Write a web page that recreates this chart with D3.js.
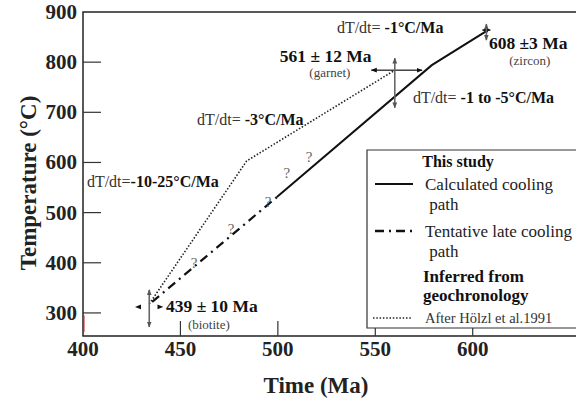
<!DOCTYPE html>
<html>
<head>
<meta charset="utf-8">
<script src="https://cdn.jsdelivr.net/npm/d3@7"></script>
<style>
  body { margin: 0; background: #fff; }
  text { font-family: "Liberation Serif", "DejaVu Serif", serif; }
</style>
</head>
<body>
<div id="chart"></div>
<script>
// cooling paths, [time Ma, temperature C]
var calcPath  = [[499.5, 531], [579, 794], [607, 862]];
var tentPath  = [[435.5, 322], [499.5, 531]];
var holzlPath = [[434, 318], [484, 603], [560, 784]];

// age error crosses: centre, time range, temperature range
var ageTimes   = [434, 560, 607];
var ageTemps   = [312, 784, 864];
var ageTimeLo  = [427, 548, 605];
var ageTimeHi  = [441, 574, 609];
var ageTempLo  = [272, 709, 844];
var ageTempHi  = [346, 808, 876];

var ageLabels   = ["439 \u00b1 10 Ma", "561 \u00b1 12 Ma", "608 \u00b13 Ma"];
var ageMinerals = ["(biotite)", "(garnet)", "(zircon)"];

var rateLabels = ["-10-25\u00b0C/Ma", "-3\u00b0C/Ma", "-1 to -5\u00b0C/Ma", "-1\u00b0C/Ma"];

var questionMarks = [[457, 400], [476, 468], [495, 521], [504.6, 579], [516, 611]];

var xTicks = [400, 450, 500, 550, 600];
var yTicks = [300, 400, 500, 600, 700, 800, 900];

function init(){
    var w = 576;
    var h = 400;
    var serif = '"Liberation Serif", "DejaVu Serif", serif';

    var xScale = d3.scaleLinear()
                    .domain([400, 653])
                    .range([83, 576]);

    var yScale = d3.scaleLinear()
                    .domain([254, 900])
                    .range([336, 12]);

    var svg = d3.select('#chart')
                .append('svg')
                .attr('width', w)
                .attr('height', h)
                .attr('font-family', serif);

    // arrow heads for the error crosses
    var defs = svg.append('defs');
    [['arrBlack', '#111'], ['arrGrey', '#555']].forEach(function(m){
        defs.append('marker')
            .attr('id', m[0])
            .attr('viewBox', '0 0 10 10')
            .attr('refX', 9)
            .attr('refY', 5)
            .attr('markerUnits', 'userSpaceOnUse')
            .attr('markerWidth', 6)
            .attr('markerHeight', 6)
            .attr('orient', 'auto-start-reverse')
            .append('path')
            .attr('d', 'M0,1 L10,5 L0,9 Z')
            .attr('fill', m[1]);
    });

    // axes frame
    var x0 = xScale.range()[0], x1 = xScale.range()[1];
    var y0 = yScale.range()[0], y1 = yScale.range()[1];

    svg.append('path')
        .attr('d', 'M' + x1 + ',' + y1 + 'H' + x0 + 'V' + y0 + 'H' + x1)
        .attr('fill', 'none')
        .attr('stroke', '#222')
        .attr('stroke-width', 1.5);

    // small red mark on the y axis
    svg.append('line')
        .attr('x1', x0 + 1).attr('x2', x0 + 1)
        .attr('y1', yScale(295)).attr('y2', yScale(262))
        .attr('stroke', '#d02020')
        .attr('stroke-width', 1);

    // y ticks point inwards
    svg.selectAll('.ytick')
        .data(yTicks.filter(function(d){ return d < 900; }))
        .enter()
        .append('line')
        .attr('x1', x0)
        .attr('x2', x0 + 18)
        .attr('y1', function(d){ return yScale(d); })
        .attr('y2', function(d){ return yScale(d); })
        .attr('stroke', '#333')
        .attr('stroke-width', 1.2);

    svg.selectAll('.ylab')
        .data(yTicks)
        .enter()
        .append('text')
        .attr('x', x0 - 6)
        .attr('y', function(d){ return yScale(d) + 7; })
        .attr('text-anchor', 'end')
        .attr('font-weight', 'bold')
        .attr('font-size', '21px')
        .attr('fill', '#222')
        .text(function(d){ return d; });

    // x ticks point upwards
    svg.selectAll('.xtick')
        .data(xTicks.filter(function(d){ return d > 400; }))
        .enter()
        .append('line')
        .attr('x1', function(d){ return xScale(d); })
        .attr('x2', function(d){ return xScale(d); })
        .attr('y1', y0)
        .attr('y2', y0 - 15)
        .attr('stroke', '#333')
        .attr('stroke-width', 1.2);

    svg.selectAll('.xlab')
        .data(xTicks)
        .enter()
        .append('text')
        .attr('x', function(d){ return xScale(d); })
        .attr('y', y0 + 20)
        .attr('text-anchor', 'middle')
        .attr('font-weight', 'bold')
        .attr('font-size', '21px')
        .attr('fill', '#222')
        .text(function(d){ return d; });

    // axis titles
    svg.append('text')
        .attr('x', 316)
        .attr('y', 393)
        .attr('text-anchor', 'middle')
        .attr('font-weight', 'bold')
        .attr('font-size', '23px')
        .attr('fill', '#222')
        .text('Time (Ma)');

    svg.append('text')
        .attr('transform', 'translate(36,183) rotate(-90)')
        .attr('text-anchor', 'middle')
        .attr('font-weight', 'bold')
        .attr('font-size', '23px')
        .attr('fill', '#222')
        .text('Temperature  (\u00b0C)');

    var line = d3.line()
                .x(function(d){ return xScale(d[0]); })
                .y(function(d){ return yScale(d[1]); });

    // Hölzl et al. path
    svg.append('path')
        .datum(holzlPath)
        .attr('d', line)
        .attr('fill', 'none')
        .attr('stroke', '#222')
        .attr('stroke-width', 1.6)
        .attr('stroke-dasharray', '1.5,1.8');

    // tentative late path
    svg.append('path')
        .datum(tentPath)
        .attr('d', line)
        .attr('fill', 'none')
        .attr('stroke', '#111')
        .attr('stroke-width', 2.2)
        .attr('stroke-dasharray', '9,5,2,5');

    // calculated path
    svg.append('path')
        .datum(calcPath)
        .attr('d', line)
        .attr('fill', 'none')
        .attr('stroke', '#111')
        .attr('stroke-width', 2);

    // question marks along the uncertain part
    svg.selectAll('.qm')
        .data(questionMarks)
        .enter()
        .append('text')
        .attr('x', function(d){ return xScale(d[0]); })
        .attr('y', function(d){ return yScale(d[1]) + 5; })
        .attr('text-anchor', 'middle')
        .attr('font-size', '15px')
        .attr('fill', '#666')
        .text('?');

    // error crosses
    ageTimes.forEach(function(t, i){
        svg.append('line')
            .attr('x1', xScale(t)).attr('x2', xScale(ageTimeLo[i]))
            .attr('y1', yScale(ageTemps[i])).attr('y2', yScale(ageTemps[i]))
            .attr('stroke', i == 0 ? 'none' : '#111')
            .attr('stroke-width', 1.2)
            .attr('marker-end', 'url(#arrBlack)');
        svg.append('line')
            .attr('x1', xScale(t)).attr('x2', xScale(ageTimeHi[i]))
            .attr('y1', yScale(ageTemps[i])).attr('y2', yScale(ageTemps[i]))
            .attr('stroke', i == 0 ? 'none' : '#111')
            .attr('stroke-width', 1.2)
            .attr('marker-end', 'url(#arrBlack)');
        svg.append('line')
            .attr('x1', xScale(t)).attr('x2', xScale(t))
            .attr('y1', yScale(ageTempLo[i])).attr('y2', yScale(ageTempHi[i]))
            .attr('stroke', '#666')
            .attr('stroke-width', 1.6)
            .attr('marker-start', 'url(#arrGrey)')
            .attr('marker-end', 'url(#arrGrey)');
    });

    // age labels, anchored in data space
    var agePos  = [[442.6, 302], [501, 800], [608.3, 826]];
    var minPos  = [[464.6, 268], [526.7, 771], [629.3, 795]];

    svg.selectAll('.age')
        .data(ageLabels)
        .enter()
        .append('text')
        .attr('x', function(d, i){ return xScale(agePos[i][0]); })
        .attr('y', function(d, i){ return yScale(agePos[i][1]); })
        .attr('font-weight', 'bold')
        .attr('font-size', '17.5px')
        .attr('fill', '#111')
        .text(function(d){ return d; });

    svg.selectAll('.mineral')
        .data(ageMinerals)
        .enter()
        .append('text')
        .attr('x', function(d, i){ return xScale(minPos[i][0]); })
        .attr('y', function(d, i){ return yScale(minPos[i][1]); })
        .attr('text-anchor', 'middle')
        .attr('font-size', '13px')
        .attr('fill', '#444')
        .text(function(d){ return d; });

    // cooling rate labels
    var ratePos = [[402, 551], [458.5, 675], [569.3, 719], [530.3, 858]];
    var rateGap = ['', ' ', ' ', ' '];

    ratePos.forEach(function(p, i){
        var t = svg.append('text')
            .attr('x', xScale(p[0]))
            .attr('y', yScale(p[1]))
            .attr('font-size', '16px')
            .attr('fill', '#333')
            .style('white-space', 'pre');
        t.append('tspan').text('dT/dt=' + rateGap[i]);
        t.append('tspan')
            .attr('font-weight', 'bold')
            .attr('fill', '#111')
            .text(rateLabels[i]);
    });

    // legend
    var lg = svg.append('g');
    lg.append('path')
        .attr('d', 'M576,150H367V328H576')
        .attr('fill', 'white')
        .attr('stroke', '#333')
        .attr('stroke-width', 1.2);

    lg.append('text')
        .attr('x', 458).attr('y', 167)
        .attr('text-anchor', 'middle')
        .attr('font-weight', 'bold')
        .attr('font-size', '16px')
        .attr('fill', '#111')
        .text('This study');

    var legendItems = [
        {y: 184, dash: null, width: 2, lines: ['Calculated cooling', ' path'], ty: 190},
        {y: 231, dash: '9,5,2,5', width: 2.4, lines: ['Tentative late cooling', ' path'], ty: 237}
    ];
    legendItems.forEach(function(it){
        lg.append('line')
            .attr('x1', 375).attr('x2', 413)
            .attr('y1', it.y).attr('y2', it.y)
            .attr('stroke', '#111')
            .attr('stroke-width', it.width)
            .attr('stroke-dasharray', it.dash);
        it.lines.forEach(function(s, j){
            lg.append('text')
                .attr('x', 425).attr('y', it.ty + j * 20)
                .attr('font-size', '17px')
                .attr('fill', '#222')
                .style('white-space', 'pre')
                .text(s);
        });
    });

    lg.append('text')
        .attr('x', 423).attr('y', 282)
        .attr('font-weight', 'bold')
        .attr('font-size', '17px')
        .attr('fill', '#111')
        .text('Inferred from');
    lg.append('text')
        .attr('x', 423).attr('y', 301)
        .attr('font-weight', 'bold')
        .attr('font-size', '17px')
        .attr('fill', '#111')
        .text('geochronology');

    lg.append('line')
        .attr('x1', 373).attr('x2', 412)
        .attr('y1', 318).attr('y2', 318)
        .attr('stroke', '#222')
        .attr('stroke-width', 1.6)
        .attr('stroke-dasharray', '1.5,1.8');
    lg.append('text')
        .attr('x', 425).attr('y', 323)
        .attr('font-size', '14.5px')
        .attr('fill', '#333')
        .text('After H\u00f6lzl et al.1991');

    // make sure every text uses the serif face
    svg.selectAll('text').attr('font-family', serif);
}

window.onload = init;
</script>
</body>
</html>
